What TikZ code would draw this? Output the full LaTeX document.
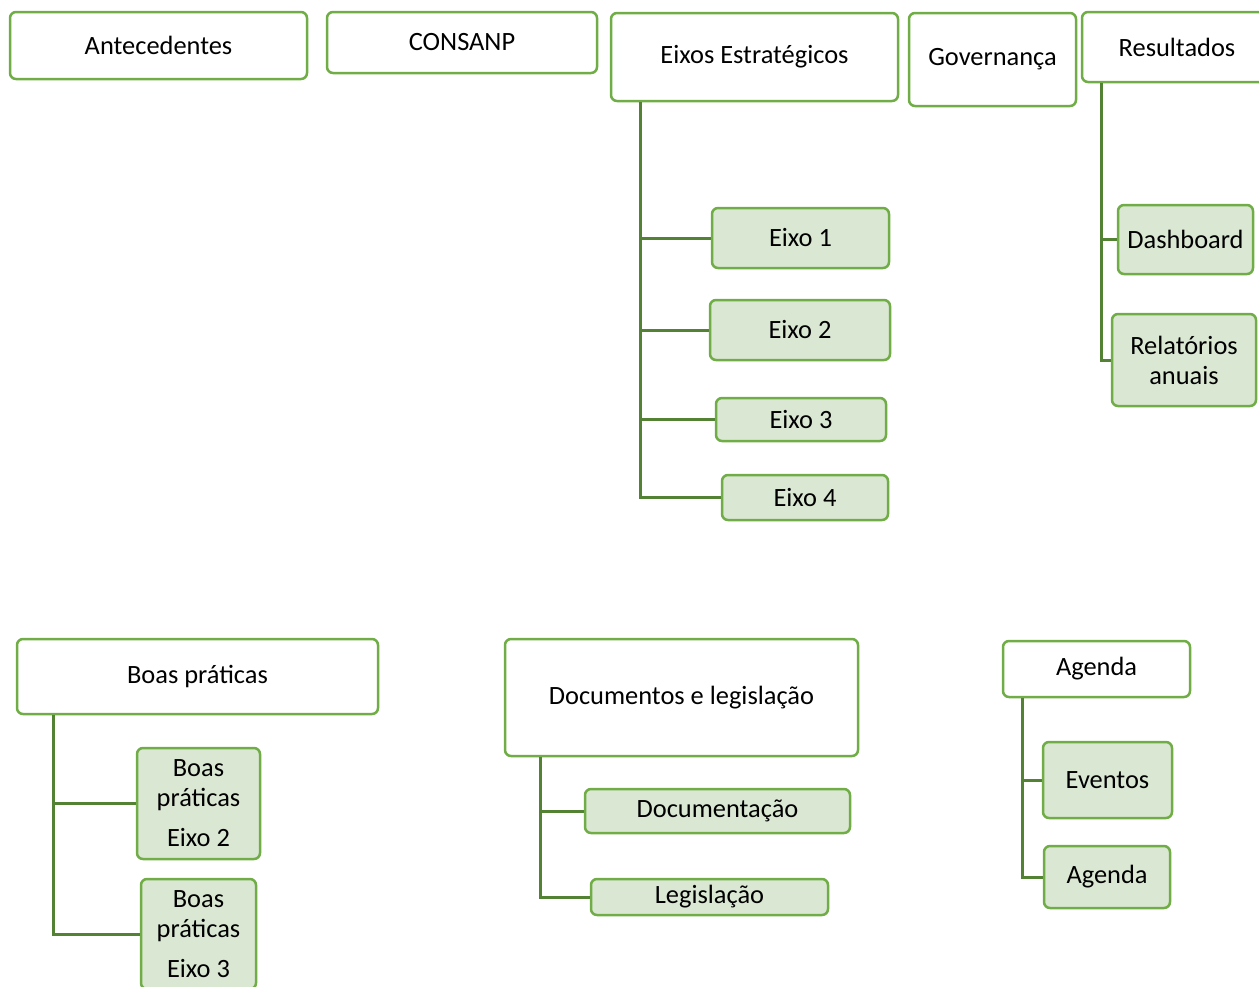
\documentclass[tikz,border=0pt]{standalone}
\usepackage{fontspec}
\setmainfont{Carlito}
\definecolor{boxgreen}{HTML}{70AD47}
\definecolor{linkgreen}{HTML}{548235}
\definecolor{leaffill}{HTML}{DAE7D3}
\tikzset{
  menu box/.style={
    draw=boxgreen,
    line width=1.25pt,
    rounded corners=3pt,
    fill=white,
    align=center,
    inner sep=2pt,
    font=\fontsize{13.2}{15}\selectfont
  },
  leaf box/.style={
    menu box,
    fill=leaffill
  },
  link/.style={
    draw=linkgreen,
    line width=1.5pt
  },
}

\begin{document}
\begin{tikzpicture}[x=0.5pt,y=-0.5pt]
    \useasboundingbox (0,0) rectangle (1259,986);
    % top row
    \node[menu box,minimum width=148.5pt,minimum height=33.5pt] (antec) at (158.5,45.5) {Antecedentes};
    \node[menu box,minimum width=135pt,minimum height=30.5pt] (consanp) at (462,42.5) {CONSANP};
    \node[menu box,minimum width=143.5pt,minimum height=44pt] (eixos) at (754.5,57) {Eixos Estratégicos};
    \node[menu box,minimum width=83.5pt,minimum height=46.5pt] (gov) at (992.5,59.5) {Governança};
    \node[menu box,minimum width=95pt,minimum height=35pt] (result) at (1177,47) {Resultados};
    % eixos
    \node[leaf box,minimum width=88.5pt,minimum height=30pt] (eixo1) at (800.5,238) {Eixo 1};
    \node[leaf box,minimum width=90pt,minimum height=30pt] (eixo2) at (800,330) {Eixo 2};
    \node[leaf box,minimum width=85pt,minimum height=21.5pt] (eixo3) at (801,419.5) {Eixo 3};
    \node[leaf box,minimum width=83pt,minimum height=22.5pt] (eixo4) at (805,497.5) {Eixo 4};
    \foreach \n in {eixo1,eixo2,eixo3,eixo4}
    \draw[link] ([xshift=15.5pt]eixos.south west) |- (\n.west);
    % resultados
    \node[leaf box,minimum width=67.5pt,minimum height=34.5pt] (dash) at (1185.5,239.5) {Dashboard};
    \node[leaf box,minimum width=72pt,minimum height=46pt] (relat) at (1184,360) {Relatórios\\anuais};
    \foreach \n in {dash,relat}
    \draw[link] ([xshift=10.5pt]result.south west) |- (\n.west);
    % bottom row
    \node[menu box,minimum width=180.5pt,minimum height=37.5pt] (boas) at (197.5,676.5) {Boas práticas};
    \node[leaf box,minimum width=61.5pt,minimum height=55.5pt] (boas2) at (198.5,803.5) {Boas\\práticas\\[5pt]Eixo 2};
    \node[leaf box,minimum width=57.5pt,minimum height=55pt] (boas3) at (198.5,934) {Boas\\práticas\\[5pt]Eixo 3};
    \foreach \n in {boas2,boas3}
    \draw[link] ([xshift=19pt]boas.south west) |- (\n.west);
    \node[menu box,minimum width=176.5pt,minimum height=58.5pt] (docs) at (681.5,697.5) {Documentos e legislação};
    \node[leaf box,minimum width=132.5pt,minimum height=22pt] (docum) at (717.5,811) {Documentação};
    \node[leaf box,minimum width=118.5pt,minimum height=18pt] (legis) at (709.5,897) {Legislação};
    \foreach \n in {docum,legis}
    \draw[link] ([xshift=18.5pt]docs.south west) |- (\n.west);
    \node[menu box,minimum width=93.5pt,minimum height=28pt] (agenda) at (1096.5,669) {Agenda};
    \node[leaf box,minimum width=64.5pt,minimum height=38pt] (eventos) at (1107.5,780) {Eventos};
    \node[leaf box,minimum width=63pt,minimum height=31pt] (agenda2) at (1107,877) {Agenda};
    \foreach \n in {eventos,agenda2}
    \draw[link] ([xshift=10.5pt]agenda.south west) |- (\n.west);
\end{tikzpicture}
\end{document}
